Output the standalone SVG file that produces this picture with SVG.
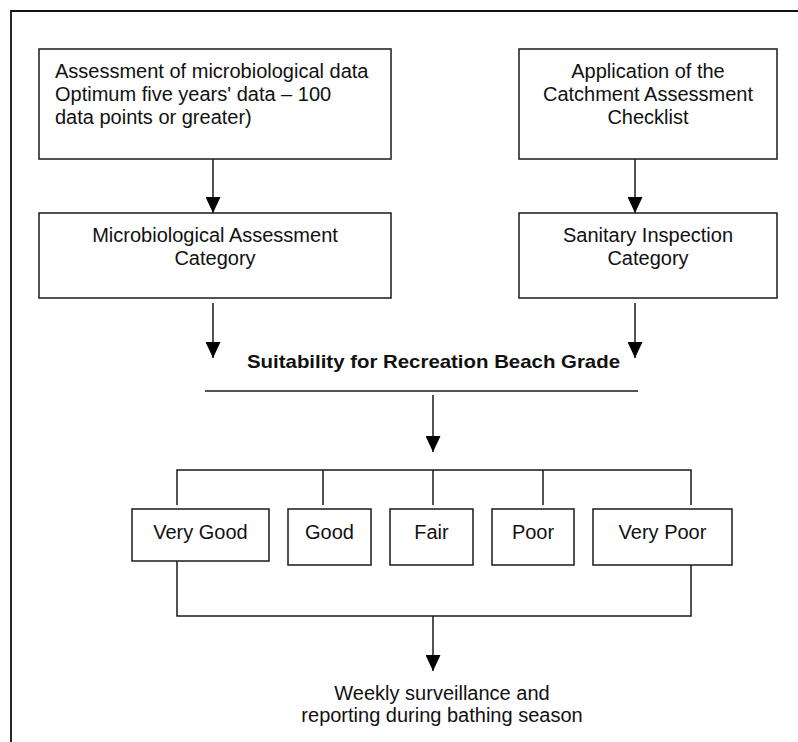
<svg xmlns="http://www.w3.org/2000/svg" width="798" height="742" viewBox="0 0 798 742">
<defs>
<style>
.box{fill:#fff;stroke:#1a1a1a;stroke-width:1.5}
.ln{fill:none;stroke:#1a1a1a;stroke-width:1.5}
.t{font-family:"Liberation Sans",Arial,sans-serif;font-size:20px;fill:#111}
.c{text-anchor:middle}
.b{font-weight:bold;font-size:19px}
</style>
<marker id="ah" markerUnits="userSpaceOnUse" markerWidth="16" markerHeight="15" refX="16" refY="7.5" orient="auto">
<path d="M0,0 L16,7.5 L0,15 Z" fill="#000"/>
</marker>
</defs>
<rect width="798" height="742" fill="#fff"/>
<path d="M11,742 V11 H798" fill="none" stroke="#111" stroke-width="1.8"/>

<g id="n-microdata">
<rect class="box" x="39" y="49" width="352" height="110"/>
<text class="t" x="55" y="78">Assessment of microbiological data</text>
<text class="t" x="55" y="101">Optimum five years' data – 100</text>
<text class="t" x="55" y="124">data points or greater)</text>
</g>
<g id="n-checklist">
<rect class="box" x="519" y="49" width="258" height="110"/>
<text class="t c" x="648" y="78">Application of the</text>
<text class="t c" x="648" y="101">Catchment Assessment</text>
<text class="t c" x="648" y="124">Checklist</text>
</g>
<g id="n-microcat">
<rect class="box" x="39" y="213" width="352" height="85"/>
<text class="t c" x="215" y="242">Microbiological Assessment</text>
<text class="t c" x="215" y="265">Category</text>
</g>
<g id="n-sanitary">
<rect class="box" x="519" y="213" width="258" height="85"/>
<text class="t c" x="648" y="242">Sanitary Inspection</text>
<text class="t c" x="648" y="265">Category</text>
</g>
<g id="n-grade">
<text class="t b" x="247" y="368" textLength="373" lengthAdjust="spacingAndGlyphs">Suitability for Recreation Beach Grade</text>
</g>
<g id="n-verygood">
<rect class="box" x="132" y="509" width="137" height="52"/>
<text class="t c" x="200.5" y="539">Very Good</text>
</g>
<g id="n-good">
<rect class="box" x="288" y="509" width="83" height="56"/>
<text class="t c" x="329.5" y="539">Good</text>
</g>
<g id="n-fair">
<rect class="box" x="390" y="509" width="83" height="56"/>
<text class="t c" x="431.5" y="539">Fair</text>
</g>
<g id="n-poor">
<rect class="box" x="492" y="509" width="82" height="56"/>
<text class="t c" x="533" y="539">Poor</text>
</g>
<g id="n-verypoor">
<rect class="box" x="593" y="509" width="139" height="56"/>
<text class="t c" x="662.5" y="539">Very Poor</text>
</g>
<g id="n-weekly">
<text class="t c" x="442" y="700">Weekly surveillance and</text>
<text class="t c" x="442" y="722">reporting during bathing season</text>
</g>

<g id="connectors">
<line class="ln" x1="213" y1="159" x2="213" y2="213" marker-end="url(#ah)"/>
<line class="ln" x1="635" y1="159" x2="635" y2="213" marker-end="url(#ah)"/>
<line class="ln" x1="213" y1="303" x2="213" y2="358" marker-end="url(#ah)"/>
<line class="ln" x1="635" y1="303" x2="635" y2="358" marker-end="url(#ah)"/>
<line class="ln" x1="205" y1="391" x2="638" y2="391"/>
<line class="ln" x1="433" y1="395" x2="433" y2="452" marker-end="url(#ah)"/>
<path class="ln" d="M177,505 V470 H691 V505 M323,470 V505 M433,470 V505 M543,470 V505"/>
<path class="ln" d="M177,561 V616 H691 V565"/>
<line class="ln" x1="433" y1="616" x2="433" y2="671" marker-end="url(#ah)"/>
</g>
</svg>
